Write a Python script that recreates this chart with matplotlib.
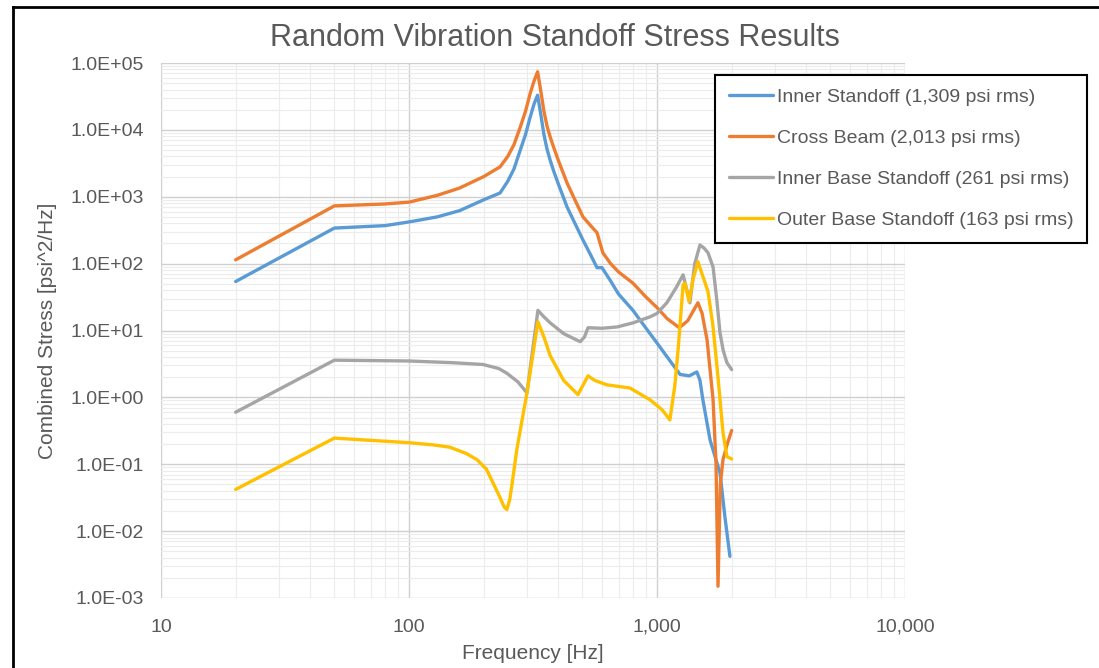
import numpy as np
import matplotlib.pyplot as plt
from matplotlib.lines import Line2D
from matplotlib.ticker import FuncFormatter, LogLocator, NullFormatter

plt.rcParams['font.family'] = ['Liberation Sans', 'DejaVu Sans']

# values
f_inner = [20, 50, 80, 100, 130, 160, 200, 233, 250, 265, 281, 295, 308, 320, 330, 340, 350, 360,
           371, 385, 400, 434, 470, 503, 540, 573, 600, 650, 700, 800, 900, 1000, 1100, 1239, 1350,
           1448, 1490, 1531, 1637, 1795, 1880, 1968]
s_inner = [54, 340, 370, 420, 500, 620, 900, 1140, 1700, 2600, 5000, 8500, 15500, 25000, 33000,
           17000, 8500, 5200, 3500, 2300, 1560, 700, 380, 225, 135, 87, 87, 55, 35, 20, 11, 6.5,
           4.0, 2.2, 2.1, 2.4, 1.8, 0.92, 0.23, 0.074, 0.016, 0.0042]

f_beam = [20, 50, 80, 100, 130, 160, 200, 233, 250, 265, 281, 295, 308, 320, 330, 340, 350, 360,
          371, 385, 400, 434, 470, 503, 540, 573, 605, 650, 700, 800, 900, 1000, 1100, 1230, 1330,
          1462, 1520, 1592, 1683, 1730, 1762, 1800, 1845, 1920, 2000]
s_beam = [114, 730, 780, 830, 1050, 1350, 2000, 2800, 4000, 6000, 11000, 19000, 35000, 55000,
          74000, 38000, 19000, 11500, 7800, 5200, 3500, 1600, 850, 500, 370, 290, 145, 100, 75,
          51, 32, 22, 15, 11, 14, 26, 18, 7.2, 0.92, 0.1, 0.0015, 0.05, 0.117, 0.2, 0.32]

f_inbase = [20, 50, 100, 150, 199, 230, 248, 275, 299, 331, 350, 371, 420, 490, 510, 527, 600,
            690, 800, 937, 1000, 1096, 1200, 1274, 1320, 1357, 1420, 1490, 1550, 1606, 1683, 1740,
            1795, 1850, 1914, 2000]
s_inbase = [0.60, 3.6, 3.5, 3.3, 3.1, 2.7, 2.3, 1.7, 1.17, 20, 16, 13, 9, 6.8, 8, 11, 10.8, 11.3,
            13, 16, 18, 26, 45, 68, 40, 26, 100, 190, 170, 145, 89, 30, 9.2, 5, 3.3, 2.6]

f_outbase = [20, 50, 100, 125, 146, 170, 188, 205, 218, 230, 242, 248, 255, 262, 272, 299, 331,
             350, 371, 420, 480, 527, 560, 628, 778, 937, 1050, 1127, 1180, 1216, 1274, 1297,
             1346, 1400, 1462, 1606, 1680, 1762, 1845, 1914, 2000]
s_outbase = [0.042, 0.246, 0.21, 0.195, 0.18, 0.145, 0.117, 0.085, 0.053, 0.035, 0.023, 0.021,
             0.03, 0.06, 0.165, 1.17, 13.5, 8, 4.2, 1.8, 1.1, 2.1, 1.8, 1.54, 1.38, 0.92, 0.65,
             0.46, 1.5, 5.1, 48, 51, 27, 60, 107, 38, 12, 2.0, 0.30, 0.13, 0.12]

x_ticks = [10, 100, 1000, 10000]
y_ticks = [1e-3, 1e-2, 1e-1, 1e0, 1e1, 1e2, 1e3, 1e4, 1e5]

labels = ['Inner Standoff (1,309 psi rms)', 'Cross Beam (2,013 psi rms)',
          'Inner Base Standoff (261 psi rms)', 'Outer Base Standoff (163 psi rms)']
colors = ['#5B9BD5', '#ED7D31', '#A5A5A5', '#FFC000']

txt = '#595959'

fig = plt.figure(figsize=(10.99, 6.68), dpi=100)
ax = fig.add_axes([161/1099, 1-598/668, (905-161)/1099, (598-63)/668])

series = [(f_inner, s_inner), (f_beam, s_beam), (f_inbase, s_inbase), (f_outbase, s_outbase)]
for (f, s), lab, c in zip(series, labels, colors):
    ax.plot(f, s, color=c, lw=2.4, label=lab, solid_joinstyle='round', solid_capstyle='round')

ax.set_xscale('log')
ax.set_yscale('log')
ax.set_xticks(x_ticks)
ax.set_yticks(y_ticks)
ax.set_xlim(10, 10000)
ax.set_ylim(1e-3, 1e5)

ax.xaxis.set_minor_locator(LogLocator(base=10, subs=np.arange(2, 10), numticks=20))
ax.yaxis.set_minor_locator(LogLocator(base=10, subs=np.arange(2, 10), numticks=20))
ax.xaxis.set_major_formatter(FuncFormatter(lambda v, p: '{:,.0f}'.format(v)))
ax.yaxis.set_major_formatter(FuncFormatter(lambda v, p: '{:.1E}'.format(v)))
ax.xaxis.set_minor_formatter(NullFormatter())
ax.yaxis.set_minor_formatter(NullFormatter())

ax.grid(which='major', color='#d0d0d0', lw=1.0)
ax.grid(which='minor', color='#ececec', lw=0.8)
ax.set_axisbelow(True)
for sp in ax.spines.values():
    sp.set_visible(False)
ax.tick_params(which='both', length=0, colors=txt, labelsize=14)
ax.tick_params(axis='y', pad=12)
ax.tick_params(axis='x', pad=15)

ax.set_xlabel('Frequency [Hz]', fontsize=15, color=txt, labelpad=6)
ax.set_ylabel('Combined Stress [psi^2/Hz]', fontsize=15, color=txt, labelpad=10)
fig.text(555/1099, 1-38/668, 'Random Vibration Standoff Stress Results', ha='center', va='center',
         fontsize=22, color=txt)

leg = fig.legend(loc='upper left', bbox_to_anchor=(715/1099, 1-75/668), fontsize=14,
                 handlelength=2.3, handletextpad=0.2, labelspacing=1.2, borderpad=0.7,
                 borderaxespad=0, fancybox=False, framealpha=1, edgecolor='black')
leg.get_frame().set_linewidth(1.5)
for t in leg.get_texts():
    t.set_color(txt)

# chart border
fig.add_artist(Line2D([13/1099, 13/1099], [0, 1-7/668], transform=fig.transFigure, color='black', lw=2))
fig.add_artist(Line2D([13/1099, 1], [1-7/668, 1-7/668], transform=fig.transFigure, color='black', lw=2))

fig.savefig('out.png', dpi=100)
